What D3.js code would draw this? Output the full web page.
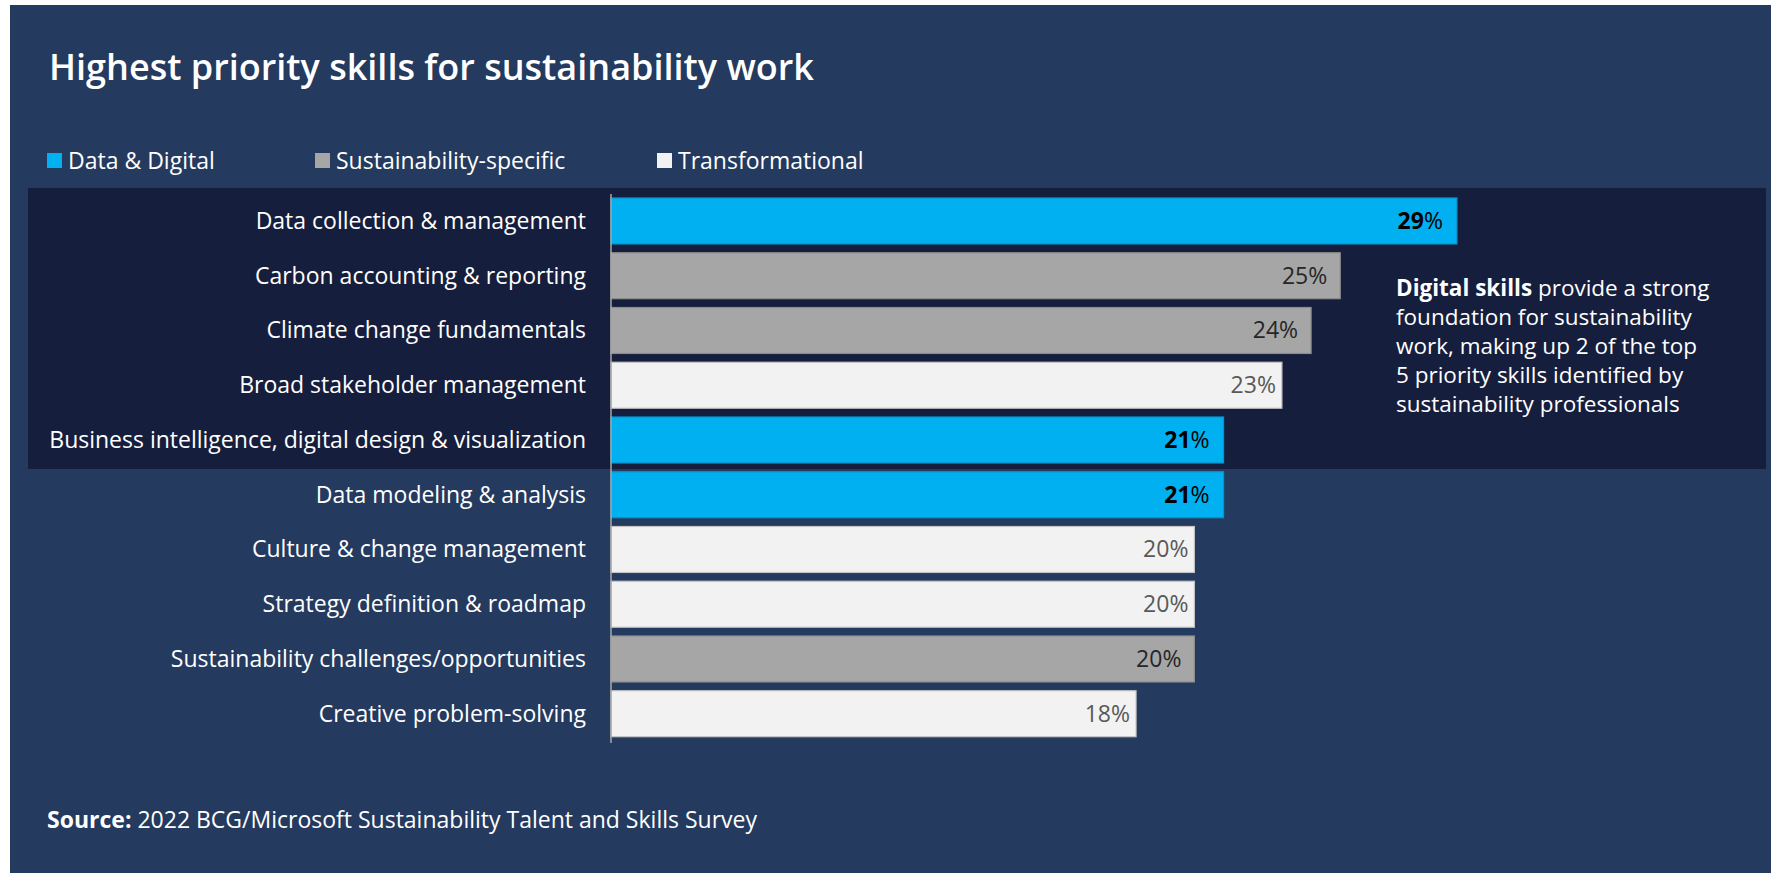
<!DOCTYPE html>
<html>
<head>
<meta charset="utf-8">
<script src="https://cdn.jsdelivr.net/npm/d3@7"></script>
<style>
  html, body { margin: 0; padding: 0; background: #ffffff; }
  svg { display: block; }
</style>
</head>
<body>
<div id="chart"></div>
<script>
// Highest priority skills — horizontal bars, top 5 rows sit on a darker band
const SKILLS = [
  "Data collection & management",
  "Carbon accounting & reporting",
  "Climate change fundamentals",
  "Broad stakeholder management",
  "Business intelligence, digital design & visualization",
  "Data modeling & analysis",
  "Culture & change management",
  "Strategy definition & roadmap",
  "Sustainability challenges/opportunities",
  "Creative problem-solving",
];
const VALUES = [29, 25, 24, 23, 21, 21, 20, 20, 20, 18];
const GROUPS = ["digital", "sust", "sust", "transf", "digital", "digital", "transf", "transf", "sust", "transf"];
const LEGEND_KEYS = ["digital", "sust", "transf"];
const LEGEND_LABELS = ["Data & Digital", "Sustainability-specific", "Transformational"];
const NOTE_LINES = [
  [["Digital skills", true], [" provide a strong", false]],
  [["foundation for sustainability", false]],
  [["work, making up 2 of the top", false]],
  [["5 priority skills identified by", false]],
  [["sustainability professionals", false]],
];

(() => {
  const W = 1771, H = 873;
  const FONT = `"Segoe UI", "Open Sans", "Noto Sans", sans-serif`;
  const NAVY = "#243a5f", DEEP = "#161e3e";
  const FILL = { digital: "#00b0f0", sust: "#a6a6a6", transf: "#f2f2f2" };
  const EDGE = { digital: "#0a93c9", sust: "#8c8c8c", transf: "#c4c4c4" };
  const VAL_COL = { digital: "#000000", sust: "#262626", transf: "#595959" };
  const VAL_PAD = { digital: 14, sust: 13, transf: 6 };
  const FS = 23;

  const AX = 611;
  const x = d3.scaleLinear().domain([0, 40]).range([AX, AX + 40 * 29.17]);
  const y = d3.scaleBand().domain(SKILLS).range([193.6, 741.1]).paddingInner(0.16).paddingOuter(0.08);
  const bw = y.bandwidth();

  const svg = d3.select("#chart").append("svg")
    .attr("width", W).attr("height", H).attr("viewBox", `0 0 ${W} ${H}`);

  svg.append("rect").attr("x", 10).attr("y", 5).attr("width", W - 10).attr("height", H - 5).attr("fill", NAVY);

  // 标题
  svg.append("text").attr("x", 49).attr("y", 80)
    .attr("style", `font:600 36px ${FONT};fill:#ffffff`)
    .text("Highest priority skills for sustainability work");

  // 图例
  const LEG_X = [47, 315, 657];
  LEGEND_KEYS.forEach((k, i) => {
    svg.append("rect").attr("x", LEG_X[i]).attr("y", 153).attr("width", 15).attr("height", 15)
      .attr("fill", FILL[k]);
    svg.append("text").attr("x", LEG_X[i] + 21).attr("y", 169)
      .attr("style", `font:${FS}px ${FONT};fill:#ffffff`).text(LEGEND_LABELS[i]);
  });

  // 深色高亮带（前 5 行）
  const bandTop = y(SKILLS[0]) - 10, bandBot = y(SKILLS[4]) + bw + 6;
  svg.append("rect").attr("x", 28).attr("y", bandTop).attr("width", 1766 - 28).attr("height", bandBot - bandTop)
    .attr("fill", DEEP);

  // 柱
  const rows = svg.append("g").selectAll("g").data(SKILLS).join("g");
  rows.append("rect")
    .attr("x", x(0)).attr("y", d => y(d))
    .attr("width", (d, i) => x(VALUES[i]) - x(0)).attr("height", bw)
    .attr("fill", (d, i) => FILL[GROUPS[i]])
    .attr("stroke", (d, i) => EDGE[GROUPS[i]]).attr("stroke-width", 1.2);

  rows.append("text")
    .attr("x", AX - 25).attr("y", d => y(d) + bw / 2 + 8)
    .attr("text-anchor", "end")
    .attr("style", `font:${FS}px ${FONT};fill:#ffffff`)
    .text(d => d);

  const vl = rows.append("text")
    .attr("x", (d, i) => x(VALUES[i]) - VAL_PAD[GROUPS[i]])
    .attr("y", d => y(d) + bw / 2 + 8)
    .attr("text-anchor", "end")
    .attr("style", (d, i) => `font:${FS}px ${FONT};fill:${VAL_COL[GROUPS[i]]}`);
  vl.append("tspan").attr("font-weight", (d, i) => GROUPS[i] === "digital" ? 700 : 400).text((d, i) => VALUES[i]);
  vl.append("tspan").text("%");

  // 轴线
  svg.append("line").attr("x1", AX).attr("x2", AX).attr("y1", 194).attr("y2", 743)
    .attr("stroke", "#a9a9a9").attr("stroke-width", 1.5);

  // 注记（每行一个 text）
  NOTE_LINES.forEach((parts, li) => {
    const t = svg.append("text").attr("x", 1396).attr("y", 296 + li * 29)
      .attr("style", `font:22.5px ${FONT};fill:#ffffff`);
    parts.forEach(([s, b]) => t.append("tspan").attr("font-weight", b ? 700 : 400).text(s));
  });

  // 来源
  const src = svg.append("text").attr("x", 47).attr("y", 828).attr("style", `font:${FS}px ${FONT};fill:#ffffff`);
  src.append("tspan").attr("font-weight", 700).text("Source:");
  src.append("tspan").text(" 2022 BCG/Microsoft Sustainability Talent and Skills Survey");
})();
</script>
</body>
</html>
